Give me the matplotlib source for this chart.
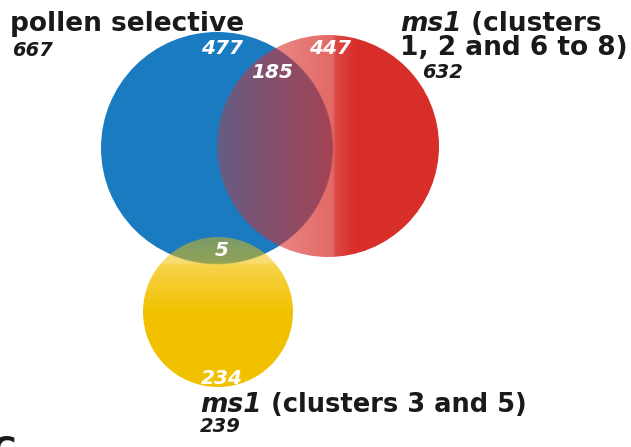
import numpy as np
import matplotlib
matplotlib.use('Agg')
import matplotlib.pyplot as plt
from matplotlib.patches import Circle

# set names and totals
set_names = ['pollen selective', 'ms1', 'ms1']
set_totals = [667, 632, 239]
# counts in the regions of the diagram
region_counts = [477, 447, 185, 5, 234]

W, H = 631, 447
fig = plt.figure(figsize=(W / 100, H / 100), dpi=100)
ax = fig.add_axes([0, 0, 1, 1])
ax.set_xlim(0, W)
ax.set_ylim(H, 0)
ax.axis('off')

blue = np.array([27, 123, 192]) / 255
red = np.array([216, 46, 42]) / 255
yellow = np.array([242, 193, 0]) / 255
blue_c, blue_r = (217, 148), 116


def gradient_circle(cx, cy, r, color, alpha_fn, z):
    # colour of the circle blended over what lies under it (blue circle or white)
    n = int(4 * r)
    xs = np.linspace(cx - r, cx + r, n)
    ys = np.linspace(cy - r, cy + r, n)
    X, Y = np.meshgrid(xs, ys)
    d = np.hypot(X - blue_c[0], Y - blue_c[1])
    cov = np.clip(blue_r - d + 0.5, 0, 1)[..., None]
    under = cov * blue + (1 - cov) * np.ones(3)
    a = alpha_fn(X, Y)[..., None]
    img = a * color + (1 - a) * under
    im = ax.imshow(img, extent=(cx - r, cx + r, cy + r, cy - r), zorder=z)
    clip = Circle((cx, cy), r, transform=ax.transData, facecolor='none', edgecolor='none')
    ax.add_patch(clip)
    im.set_clip_path(clip)


# blue circle, plain
ax.add_patch(Circle(blue_c, blue_r, facecolor=blue, edgecolor='none', zorder=1))

# red circle, transparent on its left side
gradient_circle(328, 146, 111, red,
                lambda X, Y: np.interp(X, [218, 250, 333, 336, 356],
                                       [0.38, 0.5, 0.72, 0.88, 1.0]), 2)

# yellow circle, transparent at its top
gradient_circle(218, 312, 75, yellow,
                lambda X, Y: np.interp(Y, [237, 262, 266, 312], [0.45, 0.55, 0.72, 1.0]), 3)

ax.set_xlim(0, W)
ax.set_ylim(H, 0)

big = 19
small = 14
ink = '#1a1a1a'
font = 'DejaVu Sans'

# set labels
ax.text(10, 31, set_names[0], fontsize=big, fontweight='bold',
        family=font, color=ink, va='baseline', zorder=5)
ax.text(12, 56, str(set_totals[0]), fontsize=small, fontweight='bold', style='italic',
        family=font, color=ink, va='baseline', zorder=5)

t1 = ax.text(400, 31, set_names[1], fontsize=big, fontweight='bold', style='italic',
             family=font, color=ink, va='baseline', zorder=5)
ax.annotate(' (clusters', xy=(1, 0), xycoords=t1, fontsize=big, fontweight='bold',
            family=font, color=ink, va='bottom', ha='left', zorder=5)
ax.text(400, 55, '1, 2 and 6 to 8)', fontsize=big, fontweight='bold',
        family=font, color=ink, va='baseline', zorder=5)
ax.text(422, 78, str(set_totals[1]), fontsize=small, fontweight='bold', style='italic',
        family=font, color=ink, va='baseline', zorder=5)

t3 = ax.text(200, 412, set_names[2], fontsize=big, fontweight='bold', style='italic',
             family=font, color=ink, va='baseline', zorder=5)
ax.annotate(' (clusters 3 and 5)', xy=(1, 0), xycoords=t3, fontsize=18.5, fontweight='bold',
            family=font, color=ink, va='bottom', ha='left', zorder=5)
ax.text(200, 432, str(set_totals[2]), fontsize=small, fontweight='bold', style='italic',
        family=font, color=ink, va='baseline', zorder=5)

# region counts
count_pos = [(222, 49), (330, 49), (272, 72), (222, 251), (222, 378)]
for n, (x, y) in zip(region_counts, count_pos):
    ax.text(x, y, str(n), fontsize=14.5, fontweight='bold', style='italic',
            family=font, color='white', ha='center', va='center', zorder=6)

# panel letter, cut off at the bottom edge
ax.text(4, 435, 'C', fontsize=24, fontweight='bold', family=font,
        color=ink, ha='center', va='top', zorder=5)

fig.savefig('out.png', dpi=100)
